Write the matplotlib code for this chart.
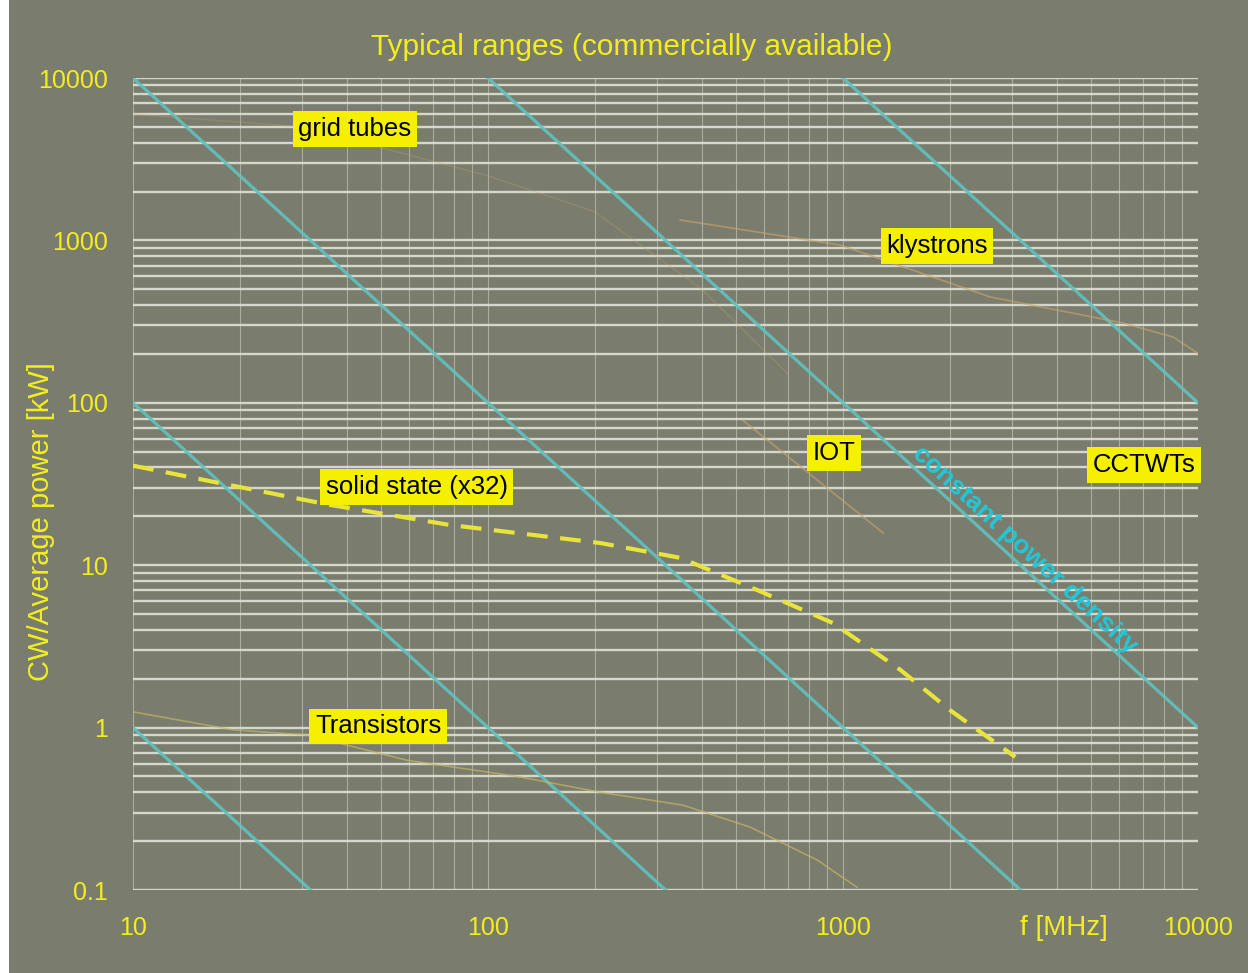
import matplotlib
matplotlib.use("Agg")
import matplotlib.pyplot as plt
from matplotlib.patches import Rectangle

plt.rcParams['font.family'] = ['Liberation Sans', 'DejaVu Sans']

# frequency [MHz] / power [kW]
solid_f = [10, 17.6, 35.9, 78, 207, 348, 547, 937, 1449, 2002, 3055]
solid_p = [41, 32, 23.5, 17.7, 13.7, 11.1, 7.35, 4.4, 2.27, 1.28, 0.66]

trans_f = [10, 19.1, 30.9, 59, 121, 207, 354, 547, 845, 1094]
trans_p = [1.25, 0.97, 0.90, 0.63, 0.50, 0.40, 0.333, 0.244, 0.153, 0.104]

klys_f = [348, 981, 2594, 6150, 8510, 9940]
klys_p = [1336, 937, 449, 310, 254, 203]

iot_f = [522, 1297]
iot_p = [78, 15.8]

grid_f = [10, 30, 100, 200, 400, 700]
grid_p = [6000, 5000, 2500, 1500, 500, 150]

# constant power density lines P = k / f^2, start points (f, P)
cpd_f = [10, 10, 10, 100, 1000]
cpd_p = [1, 100, 10000, 10000, 10000]

labels = ["grid tubes", "klystrons", "IOT", "CCTWTs", "solid state (x32)", "Transistors"]
label_f = [42.2, 1840, 944, 7050, 63, 49]
label_p = [4850, 925, 49, 41.4, 30.3, 1.02]

xticks = [10, 100, 1000, 10000]
xticklabels = ["10", "100", "1000", "10000"]
yticks = [0.1, 1, 10, 100, 1000, 10000]
yticklabels = ["0.1", "1", "10", "100", "1000", "10000"]

bg = '#7a7d6e'
yellow = '#f2ee1e'
fig = plt.figure(figsize=(12.48, 9.73), dpi=100, facecolor='white')
fig.patches.append(Rectangle((0.007, 0), 0.993, 1, transform=fig.transFigure,
                             facecolor=bg, edgecolor='none', zorder=-10))
ax = fig.add_axes([0.1066, 0.0853, 0.8534, 0.8345])
ax.set_facecolor(bg)
ax.set_xscale('log')
ax.set_yscale('log')
ax.set_xlim(10, 10000)
ax.set_ylim(0.1, 10000)
for s in ax.spines.values():
    s.set_visible(False)

ax.yaxis.grid(True, which='both', color='#dfe2d6', lw=1.7, alpha=0.9, zorder=1)
ax.xaxis.grid(True, which='both', color='#d8dccf', lw=0.8, alpha=0.5, zorder=1)
ax.set_axisbelow(True)

ax.set_xticks(xticks)
ax.set_yticks(yticks)
ax.set_yticklabels(yticklabels)
ax.tick_params(which='both', length=0, colors=yellow, labelsize=18)
ax.tick_params(axis='y', pad=18)
ax.set_xticklabels([])
for f, t in zip(xticks, xticklabels):
    ax.text(f, 0.1 * 10 ** (-38 / 162.4), t, color=yellow, fontsize=18,
            ha='center', va='center', clip_on=False)

# constant power density lines
for f0, p0 in zip(cpd_f, cpd_p):
    k = p0 * f0 ** 2
    fs = [f0, 10000]
    ps = [k / fs[0] ** 2, k / fs[1] ** 2]
    ax.plot(fs, ps, color='#5fc3c0', lw=2.3, alpha=0.9, zorder=2)

faint = '#c9a56a'
ax.plot(grid_f, grid_p, color=faint, lw=1.1, alpha=0.25, zorder=2)
ax.plot(klys_f, klys_p, color=faint, lw=1.3, alpha=0.6, zorder=2)
ax.plot(iot_f, iot_p, color=faint, lw=1.3, alpha=0.6, zorder=2)
ax.plot(trans_f, trans_p, color='#c8b860', lw=1.2, alpha=0.65, zorder=2)
ax.plot(solid_f, solid_p, color='#e8e43a', lw=3, ls=(0, (5, 3)), zorder=3)

for t, f, p in zip(labels, label_f, label_p):
    ax.text(f, p, t, fontsize=18.5, color='black', ha='center', va='center',
            zorder=5, clip_on=False,
            bbox=dict(boxstyle='square,pad=0.22', facecolor='#f5f000', edgecolor='none'))

ax.text(3260, 12.4, "constant power density", color='#22c8d8', fontsize=19,
        fontweight='bold', rotation=-42.5, rotation_mode='anchor',
        ha='center', va='center', zorder=4)

fig.text(632 / 1248, 1 - 47 / 973, "Typical ranges (commercially available)",
         color=yellow, fontsize=21.5, ha='center', va='center')
fig.text(41 / 1248, 1 - 522 / 973, "CW/Average power [kW]", color=yellow,
         fontsize=21, rotation=90, ha='center', va='center')
fig.text(1064 / 1248, 1 - 928 / 973, "f [MHz]", color=yellow, fontsize=20,
         ha='center', va='center')

fig.savefig("out.png", dpi=100, facecolor=fig.get_facecolor())
